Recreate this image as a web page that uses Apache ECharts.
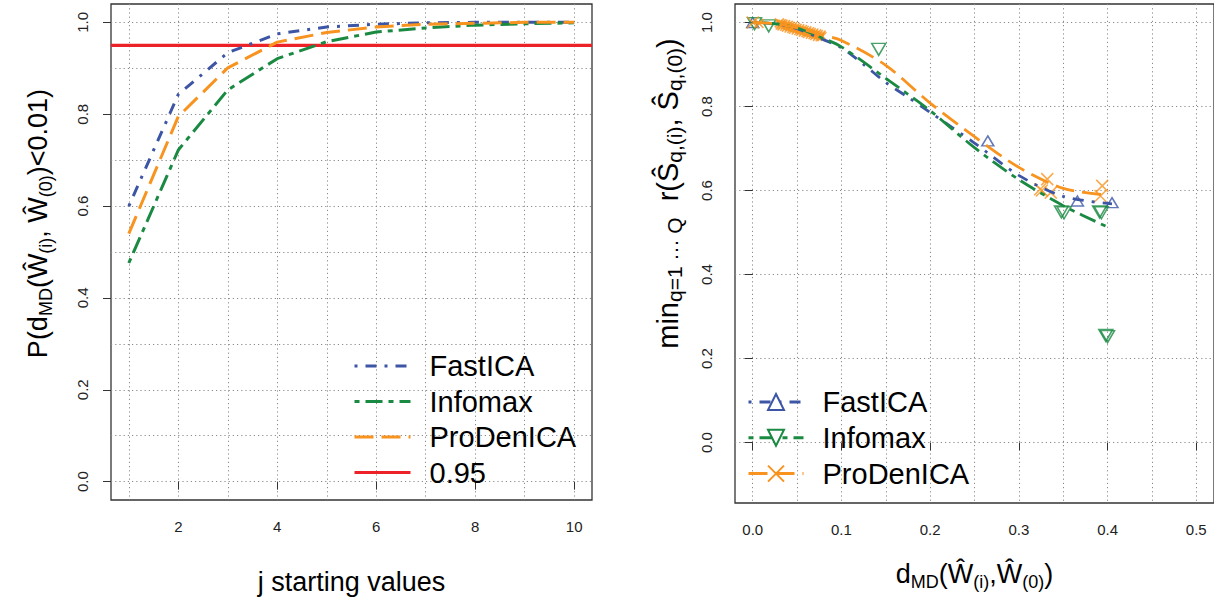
<!DOCTYPE html>
<html>
<head>
<meta charset="utf-8">
<script src="https://cdn.jsdelivr.net/npm/echarts@6/dist/echarts.min.js"></script>
<style>
  html, body { margin: 0; padding: 0; background: #fff; }
  #chart { width: 1214px; height: 604px; }
</style>
</head>
<body>
<div id="chart"></div>
<script>
// ---- left panel: share of runs with d_MD < 0.01 ----
var jValues  = [1, 2, 3, 4, 5, 6, 7, 8, 9, 10];
var fastProb = [0.600, 0.843, 0.934, 0.975, 0.990, 0.996, 0.999, 1.000, 1.000, 1.000];
var infoProb = [0.476, 0.722, 0.853, 0.921, 0.958, 0.979, 0.988, 0.994, 0.997, 0.999];
var prodProb = [0.540, 0.795, 0.901, 0.957, 0.978, 0.990, 0.996, 0.998, 1.000, 1.000];
var threshold = 0.95;
var leftXTicks = [2, 4, 6, 8, 10];
var leftXGrid  = [1, 2, 3, 4, 5, 6, 7, 8, 9, 10];
var leftYTicks = [0, 0.2, 0.4, 0.6, 0.8, 1];
var leftYGrid  = [0, 0.1, 0.2, 0.3, 0.4, 0.5, 0.6, 0.7, 0.8, 0.9, 1];

// ---- right panel: min correlation vs d_MD ----
var fastCurveX = [0, 0.025, 0.05, 0.075, 0.1, 0.125, 0.15, 0.175, 0.2, 0.25, 0.3, 0.35, 0.405];
var fastCurveY = [1.000, 0.997, 0.985, 0.963, 0.940, 0.900, 0.857, 0.822, 0.786, 0.713, 0.636, 0.586, 0.568];
var infoCurveX = [0, 0.025, 0.05, 0.075, 0.1, 0.15, 0.2, 0.25, 0.3, 0.35, 0.4];
var infoCurveY = [1.000, 0.997, 0.987, 0.966, 0.942, 0.867, 0.790, 0.702, 0.626, 0.564, 0.513];
var prodCurveX = [0, 0.025, 0.05, 0.075, 0.1, 0.15, 0.2, 0.25, 0.3, 0.35, 0.395];
var prodCurveY = [1.000, 0.997, 0.987, 0.972, 0.957, 0.898, 0.808, 0.728, 0.655, 0.605, 0.590];

var fastPtsX = [0.000, 0.265, 0.366, 0.405];
var fastPtsY = [1.000, 0.718, 0.575, 0.571];
var infoPtsX = [0.002, 0.018, 0.142, 0.348, 0.351, 0.391, 0.393, 0.398, 0.400];
var infoPtsY = [0.997, 0.992, 0.936, 0.549, 0.547, 0.549, 0.547, 0.255, 0.252];
var prodPtsX = [0.000, 0.324, 0.326, 0.332, 0.336, 0.392, 0.394];
var prodPtsY = [1.000, 0.603, 0.600, 0.627, 0.595, 0.587, 0.611];
var prodCloudX = [0.007, 0.030, 0.031, 0.032, 0.033, 0.034, 0.036, 0.037, 0.038, 0.040, 0.041, 0.042, 0.044, 0.045,
                  0.046, 0.048, 0.049, 0.050, 0.052, 0.053, 0.054, 0.056, 0.057, 0.058, 0.060, 0.061, 0.062, 0.064,
                  0.065, 0.066, 0.068, 0.069, 0.070, 0.072, 0.073, 0.074, 0.076, 0.077, 0.078];
var prodCloudY = [0.998, 0.999, 0.994, 0.997, 0.992, 0.996, 0.991, 0.995, 0.989, 0.993, 0.987, 0.991, 0.986, 0.990,
                  0.984, 0.988, 0.982, 0.986, 0.981, 0.985, 0.979, 0.983, 0.977, 0.981, 0.976, 0.980, 0.974, 0.978,
                  0.972, 0.976, 0.971, 0.975, 0.969, 0.973, 0.967, 0.971, 0.966, 0.970, 0.966];
var rightXTicks = [0, 0.1, 0.2, 0.3, 0.4, 0.5];
var rightXGrid  = [0, 0.05, 0.1, 0.15, 0.2, 0.25, 0.3, 0.35, 0.4, 0.45, 0.5];
var rightYTicks = [0, 0.2, 0.4, 0.6, 0.8, 1];

var methods = ['FastICA', 'Infomax', 'ProDenICA'];
var rightTag = ' \u2192';   // keeps right-panel legend names apart from the left ones

var blue = '#3c55a5', green = '#1a8a42', orange = '#f7931e', red = '#ec2228';
var font = 'Liberation Sans, Arial, Helvetica, sans-serif';
var dotdash = [3, 8, 11, 8], twodash = [5, 6, 17, 6], longdash = [19, 8];
var gridLine = { show: true, lineStyle: { color: '#8a8a8a', type: [1.2, 3], width: 1 } };
var xPath = 'path://M0,0L10,10M10,0L0,10';

function zip(xs, ys) { return xs.map(function(x, i) { return [x, ys[i]]; }); }
function fmt1(v) { return (+v).toFixed(1); }

function richSet(big, small) {
  return {
    n: { fontSize: big, lineHeight: 34, fontFamily: font, color: '#000' },
    s: { fontSize: small, lineHeight: 16, verticalAlign: 'bottom', fontFamily: font, color: '#000' }
  };
}

function labelAxis(grid, min, max, ticks, extra) {
  var a = {
    gridIndex: grid, type: 'value', min: min, max: max,
    axisLine: { show: false },
    axisTick: { show: true, length: 8, customValues: ticks, lineStyle: { color: '#333', width: 1 } },
    axisLabel: { customValues: ticks, color: '#222', fontSize: 15, fontFamily: font },
    splitLine: { show: false }
  };
  for (var k in extra) a[k] = extra[k];
  return a;
}
function gridAxis(grid, min, max, ticks) {
  return {
    gridIndex: grid, type: 'value', min: min, max: max,
    axisLine: { show: false }, axisLabel: { show: false },
    axisTick: { show: false, customValues: ticks },
    splitLine: gridLine
  };
}

var chart = echarts.init(document.getElementById('chart'), null, { renderer: 'svg' });

var xMinL = 0.64, xMaxL = 10.36;
var legendText = { fontSize: 29, lineHeight: 30, fontFamily: font, color: '#000', padding: [0, 0, 0, 14] };

chart.setOption({
  animation: false,
  backgroundColor: '#fff',
  grid: [
    { left: 111, top: 4, width: 481, height: 499, show: true, borderColor: '#333', borderWidth: 1.3 },
    { left: 735, top: 4, width: 481, height: 499, show: true, borderColor: '#333', borderWidth: 1.3 }
  ],
  xAxis: [
    labelAxis(0, xMinL, xMaxL, leftXTicks, {
      name: 'j starting values', nameLocation: 'middle', nameGap: 65,
      nameTextStyle: { fontSize: 27, fontFamily: font, color: '#000', lineHeight: 34 }
    }),
    gridAxis(0, xMinL, xMaxL, leftXGrid),
    labelAxis(1, -0.02, 0.52, rightXTicks, {
      name: '{n|d}{s|MD}{n|(\u0174}{s|(i)}{n|,\u0174}{s|(0)}{n|)}',
      nameLocation: 'middle', nameGap: 54,
      nameTextStyle: { rich: richSet(27, 18) }
    }),
    gridAxis(1, -0.02, 0.52, rightXGrid)
  ],
  yAxis: [
    labelAxis(0, -0.04, 1.04, leftYTicks, {
      name: '{n|P(d}{s|MD}{n|(\u0174}{s|(i)}{n|, \u0174}{s|(0)}{n|)<0.01)}',
      nameLocation: 'middle', nameGap: 56, nameRotate: 90,
      nameTextStyle: { rich: richSet(27, 18), padding: [0, 0, 0, 57] }
    }),
    gridAxis(0, -0.04, 1.04, leftYGrid),
    labelAxis(1, -0.144, 1.044, rightYTicks, {
      name: '{n|min}{s|q=1 \u00b7\u00b7\u00b7 Q}{n|  r(\u015c}{s|q,(i)}{n|, \u015c}{s|q,(0)}{n|)}',
      nameLocation: 'middle', nameGap: 50, nameRotate: 90,
      nameTextStyle: { rich: richSet(29, 21), padding: [0, 0, 0, 120] },
      splitLine: gridLine
    })
  ],
  legend: [
    {
      data: methods.concat(['0.95']), orient: 'vertical', left: 348, top: 346,
      itemWidth: 56, itemHeight: 20, itemGap: 5.5,
      itemStyle: { opacity: 0 }, lineStyle: { width: 3 },
      textStyle: legendText
    },
    {
      data: methods.map(function(m) { return m + rightTag; }), orient: 'vertical', left: 742, top: 382,
      itemWidth: 55, itemHeight: 20, itemGap: 5.8,
      itemStyle: { borderWidth: 2 }, lineStyle: { width: 3 },
      formatter: function(n) { return n.replace(rightTag, ''); },
      textStyle: legendText
    }
  ],
  series: [
    // left panel
    { name: 'FastICA', type: 'line', xAxisIndex: 0, yAxisIndex: 0, symbol: 'none', data: zip(jValues, fastProb),
      itemStyle: { color: blue }, lineStyle: { color: blue, width: 3, type: dotdash } },
    { name: 'Infomax', type: 'line', xAxisIndex: 0, yAxisIndex: 0, symbol: 'none', data: zip(jValues, infoProb),
      itemStyle: { color: green }, lineStyle: { color: green, width: 3, type: twodash } },
    { name: 'ProDenICA', type: 'line', xAxisIndex: 0, yAxisIndex: 0, symbol: 'none', data: zip(jValues, prodProb),
      itemStyle: { color: orange }, lineStyle: { color: orange, width: 3, type: longdash } },
    { name: '0.95', type: 'line', xAxisIndex: 0, yAxisIndex: 0, symbol: 'none', z: 1,
      data: [[xMinL, threshold], [xMaxL, threshold]],
      itemStyle: { color: red }, lineStyle: { color: red, width: 3.2, type: 'solid' } },

    // right panel: smoothed curves
    { name: 'FastICA' + rightTag, type: 'line', xAxisIndex: 2, yAxisIndex: 2, smooth: 0.3,
      symbol: 'emptyTriangle', showSymbol: false, data: zip(fastCurveX, fastCurveY),
      itemStyle: { color: blue, borderColor: blue }, lineStyle: { color: blue, width: 2.8, type: dotdash } },
    { name: 'Infomax' + rightTag, type: 'line', xAxisIndex: 2, yAxisIndex: 2, smooth: 0.3,
      symbol: 'emptyTriangle', symbolRotate: 180, showSymbol: false, data: zip(infoCurveX, infoCurveY),
      itemStyle: { color: green, borderColor: green }, lineStyle: { color: green, width: 2.8, type: twodash } },
    { name: 'ProDenICA' + rightTag, type: 'line', xAxisIndex: 2, yAxisIndex: 2, smooth: 0.3,
      symbol: xPath, showSymbol: false, data: zip(prodCurveX, prodCurveY),
      itemStyle: { color: orange, borderColor: orange, borderWidth: 2 }, lineStyle: { color: orange, width: 2.8, type: longdash } },

    // right panel: points
    { name: 'FastICA' + rightTag, type: 'scatter', xAxisIndex: 2, yAxisIndex: 2, symbol: 'triangle', symbolSize: [12, 10],
      data: zip(fastPtsX, fastPtsY), itemStyle: { color: 'rgba(0,0,0,0)', borderColor: blue, borderWidth: 1.5 } },
    { name: 'Infomax' + rightTag, type: 'scatter', xAxisIndex: 2, yAxisIndex: 2, symbol: 'triangle', symbolRotate: 180,
      symbolSize: [14, 12], data: zip(infoPtsX, infoPtsY),
      itemStyle: { color: 'rgba(0,0,0,0)', borderColor: green, borderWidth: 1.5 } },
    { name: 'ProDenICA' + rightTag, type: 'scatter', xAxisIndex: 2, yAxisIndex: 2, symbol: xPath,
      symbolSize: 12, data: zip(prodPtsX, prodPtsY),
      itemStyle: { color: 'rgba(0,0,0,0)', borderColor: orange, borderWidth: 1.5 } },
    { name: 'ProDenICA' + rightTag, type: 'scatter', xAxisIndex: 2, yAxisIndex: 2, symbol: xPath,
      symbolSize: 9, data: zip(prodCloudX, prodCloudY),
      itemStyle: { color: 'rgba(0,0,0,0)', borderColor: orange, borderWidth: 1.6 } }
  ]
});

// y tick labels run along the axis, as in the original figure
chart.setOption({
  xAxis: [{ axisLabel: { margin: 19, formatter: function(v) { return String(v); } } }, {},
          { axisLabel: { margin: 19, formatter: fmt1 } }, {}],
  yAxis: [{ axisLabel: { rotate: 90, margin: 21, formatter: fmt1 } }, {},
          { axisLabel: { rotate: 90, margin: 21, formatter: fmt1 } }]
});
window.addEventListener('resize', function() { chart.resize(); });
</script>
</body>
</html>
